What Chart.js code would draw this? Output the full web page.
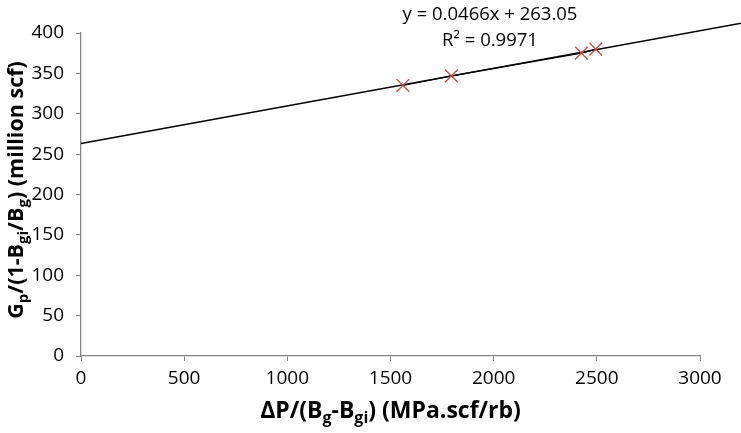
<!DOCTYPE html>
<html>
<head>
<meta charset="utf-8">
<script src="https://cdn.jsdelivr.net/npm/chart.js@4/dist/chart.umd.min.js"></script>
<style>
  html, body { margin: 0; padding: 0; background: #fff; }
  #wrap { width: 741px; height: 433px; }
</style>
</head>
<body>
<div id="wrap"><canvas id="chart" width="741" height="433"></canvas></div>
<script>
// Data
var xValues = [1560, 1795, 2425, 2495];
var yValues = [335, 347, 375, 380];
var xTicks = [0, 500, 1000, 1500, 2000, 2500, 3000];
var yTicks = [0, 50, 100, 150, 200, 250, 300, 350, 400];

// Trendline as given on the chart
var slope = 0.0466;
var intercept = 263.05;
var trendX = [0, 3200];
var trendLabel = "y = 0.0466x + 263.05";
var r2Label = "R\u00b2 = 0.9971";

const fontFamily = "'Open Sans', 'Liberation Sans', sans-serif";
const axisGrey = "#868686";

var points = xValues.map(function (x, i) { return { x: x, y: yValues[i] }; });
var trend = trendX.map(function (x) { return { x: x, y: slope * x + intercept }; });

/*
* Draws text made of parts, some of them as subscript
* @param parts - list of [text, isSub]
*/
function drawRich(ctx, parts, cx, cy, size) {
    var big = "bold " + size + "px " + fontFamily;
    var small = "bold " + Math.round(size * 0.68) + "px " + fontFamily;
    var total = 0;
    parts.forEach(function (p) {
        ctx.font = p[1] ? small : big;
        total += ctx.measureText(p[0]).width;
    });
    var x = cx - total / 2;
    ctx.textBaseline = "middle";
    ctx.textAlign = "left";
    parts.forEach(function (p) {
        ctx.font = p[1] ? small : big;
        ctx.fillText(p[0], x, p[1] ? cy + size * 0.33 : cy);
        x += ctx.measureText(p[0]).width;
    });
}

const titlesPlugin = {
    id: 'titles',
    afterDraw: function (chart) {
        var ctx = chart.ctx;
        var area = chart.chartArea;
        ctx.save();
        ctx.fillStyle = "#000";

        // x axis title
        drawRich(ctx, [["\u0394P/(B", false], ["g", true], ["-B", false], ["gi", true], [") (MPa.scf/rb)", false]],
            (area.left + area.right) / 2, 411, 23);

        // y axis title, rotated
        ctx.translate(17, 190);
        ctx.rotate(-Math.PI / 2);
        drawRich(ctx, [["G", false], ["p", true], ["/(1-B", false], ["gi", true], ["/B", false], ["g", true], [") (million scf)", false]],
            0, 0, 21.5);
        ctx.restore();

        // trendline equation
        ctx.save();
        ctx.fillStyle = "#000";
        ctx.font = "18.5px " + fontFamily;
        ctx.textAlign = "center";
        ctx.textBaseline = "middle";
        ctx.fillText(trendLabel, 490, 15);
        ctx.fillText(r2Label, 490, 41);
        ctx.restore();
    }
};

const ctx = document.getElementById('chart').getContext('2d');
const myChart = new Chart(ctx, {
    type: 'scatter',
    data: {
        datasets: [{
            label: 'Trendline',
            data: trend,
            showLine: true,
            borderColor: '#000',
            borderWidth: 1.5,
            pointRadius: 0,
            clip: false,
            order: 2
        }, {
            label: 'Data',
            data: points,
            showLine: true,
            borderColor: '#000',
            borderWidth: 1.2,
            pointStyle: 'crossRot',
            pointRadius: 9,
            pointBorderColor: '#c0504d',
            pointBorderWidth: 1.4,
            order: 1
        }]
    },
    options: {
        responsive: false,
        animation: false,
        layout: { padding: { left: 0, right: 41, top: 33, bottom: 0 } },
        plugins: {
            legend: { display: false },
            tooltip: { enabled: false }
        },
        scales: {
            x: {
                type: 'linear',
                min: 0,
                max: 3000,
                afterBuildTicks: function (scale) {
                    scale.ticks = xTicks.map(function (v) { return { value: v }; });
                },
                afterFit: function (scale) { scale.height = 77; },
                border: { color: axisGrey, width: 1.3 },
                grid: { drawOnChartArea: false, drawTicks: true, tickLength: 5, color: axisGrey },
                ticks: {
                    color: '#000', font: { family: fontFamily, size: 19 }, padding: 6,
                    maxRotation: 0, autoSkip: false,
                    callback: function (v) { return String(v); }
                }
            },
            y: {
                type: 'linear',
                min: 0,
                max: 400,
                afterBuildTicks: function (scale) {
                    scale.ticks = yTicks.map(function (v) { return { value: v }; });
                },
                afterFit: function (scale) { scale.width = 81; },
                border: { color: axisGrey, width: 1.3 },
                grid: { drawOnChartArea: false, drawTicks: true, tickLength: 5, color: axisGrey },
                ticks: {
                    color: '#000', font: { family: fontFamily, size: 19 }, padding: 12,
                    autoSkip: false,
                    callback: function (v) { return String(v); }
                }
            }
        }
    },
    plugins: [titlesPlugin]
});
</script>
</body>
</html>
